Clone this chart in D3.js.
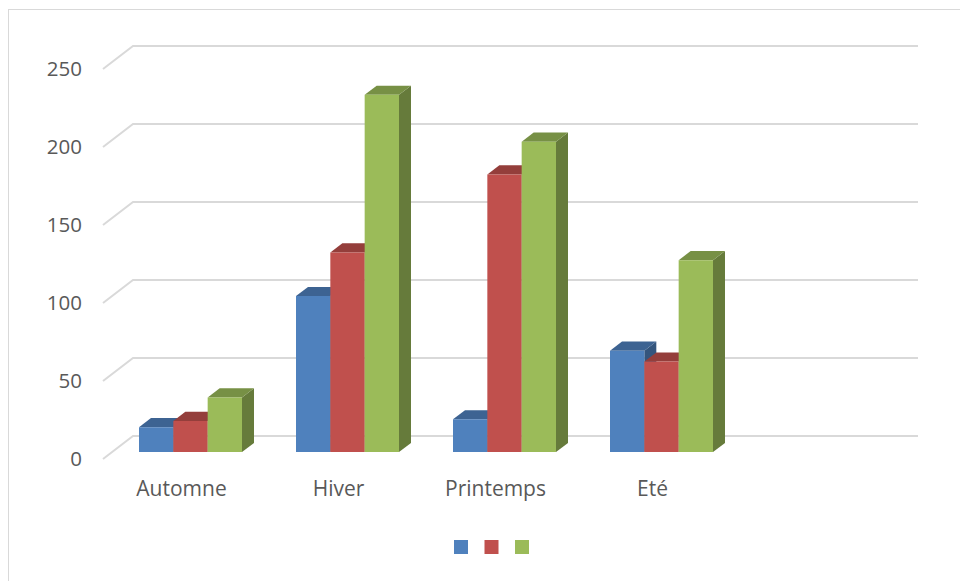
<!DOCTYPE html>
<html>
<head>
<meta charset="utf-8">
<script src="https://cdn.jsdelivr.net/npm/d3@7/dist/d3.min.js"></script>
<style>
  html, body { margin: 0; padding: 0; background: #fff; }
  svg { display: block; }
  text { font-family: "Open Sans", "Noto Sans", sans-serif; fill: #595959; }
</style>
</head>
<body>
<svg id="chart" width="960" height="581"></svg>
<script>
// Seasons (the last slot is an empty category)
const categories = ["Automne", "Hiver", "Printemps", "Eté", ""];
const seriesNames = ["s1", "s2", "s3"];
const series1 = [16, 100, 21, 65, null];
const series2 = [20, 128, 178, 58, null];
const series3 = [35, 229, 199, 123, null];
const yTicks = [0, 50, 100, 150, 200, 250];
const colors = ["#4F81BD", "#C0504D", "#9BBB59"];

const seriesValues = [series1, series2, series3];

const W = 960, H = 581;
const svg = d3.select("#chart");

// Oblique projection: depth z in [0,1] shifts right and up
const DX = 30, DY = -23;
const proj = (x, y, z) => [x + z * DX, y + z * DY];

// Front-plane scales
const y = d3.scaleLinear().domain([0, 250]).range([459, 69]);
const x = d3.scaleBand().domain(categories).range([103, 888]).padding(0);
const clusterW = 103;
const xs = d3.scaleBand().domain(seriesNames).range([0, clusterW]).padding(0);

// Outer frame
svg.append("rect")
  .attr("x", 8.5).attr("y", 9.5)
  .attr("width", W).attr("height", H)
  .attr("fill", "none").attr("stroke", "#d9d9d9").attr("stroke-width", 1);

// Gridlines: left wall diagonal + back wall horizontal
const grid = svg.append("g").attr("stroke", "#d9d9d9").attr("stroke-width", 2).attr("fill", "none");
yTicks.forEach(t => {
  const [x0, y0] = proj(x.range()[0], y(t), 0);
  const [x1, y1] = proj(x.range()[0], y(t), 1);
  const [x2, y2] = proj(x.range()[1], y(t), 1);
  grid.append("path").attr("d", `M${x0},${y0}L${x1},${y1}L${x2},${y2}`);
});

// Y tick labels on the front plane
svg.append("g").selectAll("text").data(yTicks).join("text")
  .attr("x", 82).attr("y", d => y(d))
  .attr("dy", "0.35em")
  .attr("text-anchor", "end")
  .attr("font-size", 20.5)
  .text(d => d);

// Category labels
svg.append("g").selectAll("text").data(categories).join("text")
  .attr("x", d => x(d) + x.bandwidth() / 2)
  .attr("y", 489)
  .attr("dy", "0.35em")
  .attr("text-anchor", "middle")
  .attr("font-size", 21)
  .text(d => d);

// 3D columns, drawn left to right so nearer faces overlap
const z0 = 0.3, z1 = 0.7;
const bars = svg.append("g");
const poly = pts => "M" + pts.map(p => p.join(",")).join("L") + "Z";

categories.forEach((cat, ci) => {
  seriesNames.forEach((s, si) => {
    const v = seriesValues[si][ci];
    if (v == null) return;
    const left = x(cat) + (x.bandwidth() - clusterW) / 2 + xs(s);
    const right = left + xs.bandwidth();
    const top = y(v), base = y(0);
    const c = d3.color(colors[si]);
    const topC = d3.rgb(c.r * 0.77, c.g * 0.77, c.b * 0.77);
    const sideC = d3.rgb(c.r * 0.66, c.g * 0.66, c.b * 0.66);
    const g = bars.append("g");
    // right side face
    g.append("path").attr("fill", sideC).attr("d", poly([
      proj(right, top, z0), proj(right, top, z1), proj(right, base, z1), proj(right, base, z0)
    ]));
    // top face
    g.append("path").attr("fill", topC).attr("d", poly([
      proj(left, top, z0), proj(left, top, z1), proj(right, top, z1), proj(right, top, z0)
    ]));
    // front face
    g.append("path").attr("fill", colors[si]).attr("d", poly([
      proj(left, top, z0), proj(right, top, z0), proj(right, base, z0), proj(left, base, z0)
    ]));
  });
});

// Legend (series without names)
const legendX = d3.scalePoint().domain(seriesNames).range([454, 515]);
svg.append("g").selectAll("rect").data(seriesNames).join("rect")
  .attr("x", d => legendX(d)).attr("y", 540)
  .attr("width", 14).attr("height", 14)
  .attr("fill", (d, i) => colors[i]);
</script>
</body>
</html>
